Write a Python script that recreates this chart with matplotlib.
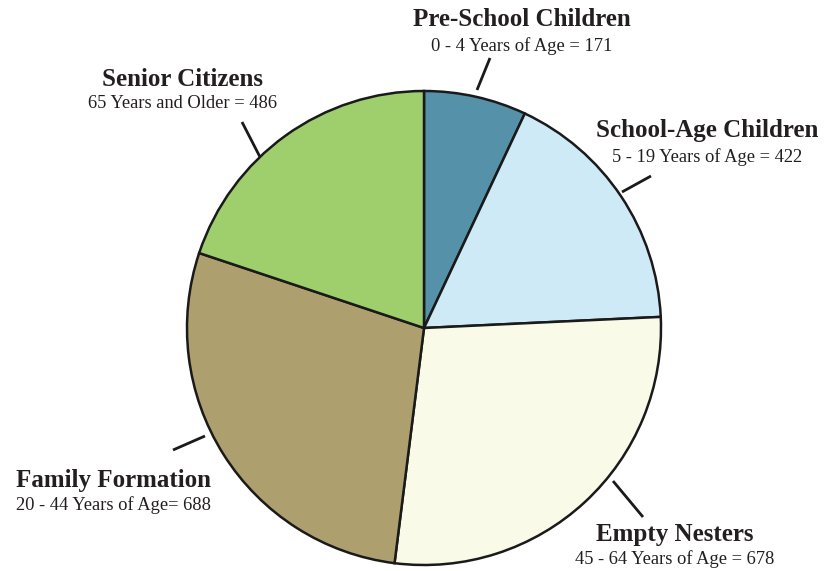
import matplotlib
matplotlib.use("Agg")
import matplotlib.pyplot as plt

categories = ["Pre-School Children", "School-Age Children", "Empty Nesters",
              "Family Formation", "Senior Citizens"]
subtitles = ["0 - 4 Years of Age = 171", "5 - 19 Years of Age = 422",
             "45 - 64 Years of Age = 678", "20 - 44 Years of Age= 688",
             "65 Years and Older = 486"]
values = [171, 422, 678, 688, 486]
colors = ["#5591a9", "#cfeaf7", "#fafae8", "#ae9f6f", "#9fcf6d"]

W, H = 836, 571
fig = plt.figure(figsize=(W / 100, H / 100), dpi=100)
ax = fig.add_axes([0, 0, 1, 1])

cx, cy, r = 424, H - 328, 237
ax.pie(values, colors=colors, startangle=90, counterclock=False,
       center=(cx, cy), radius=r, frame=True,
       wedgeprops=dict(edgecolor="#1a1a1a", linewidth=1.8))
ax.set_xlim(0, W)
ax.set_ylim(0, H)
ax.set_aspect("equal")
ax.axis("off")

txt = "#231f20"
fam = "Liberation Serif"
# label positions (pixel coords, top-left origin): title center x, title y, subtitle y
label_pos = [(522, 20, 46), (707, 131, 157), (675, 534, 559),
             (113, 481, 505), (183, 79, 104)]
leaders = [((477, 90), (490, 58)), ((622, 192), (651, 176)),
           ((613, 481), (643, 517)), ((205, 436), (173, 450)),
           ((260, 157), (242, 122))]

for cat, sub, (x, ty, sy) in zip(categories, subtitles, label_pos):
    ax.text(x, H - ty, cat, ha="center", va="center", fontsize=18,
            fontweight="bold", color=txt, family=fam)
    ax.text(x, H - sy, sub, ha="center", va="center", fontsize=13.3,
            color=txt, family=fam)

for (x0, y0), (x1, y1) in leaders:
    ax.plot([x0, x1], [H - y0, H - y1], color="#1a1a1a", lw=2.0,
            solid_capstyle="butt")

fig.savefig("out.png", dpi=100, facecolor="white")
